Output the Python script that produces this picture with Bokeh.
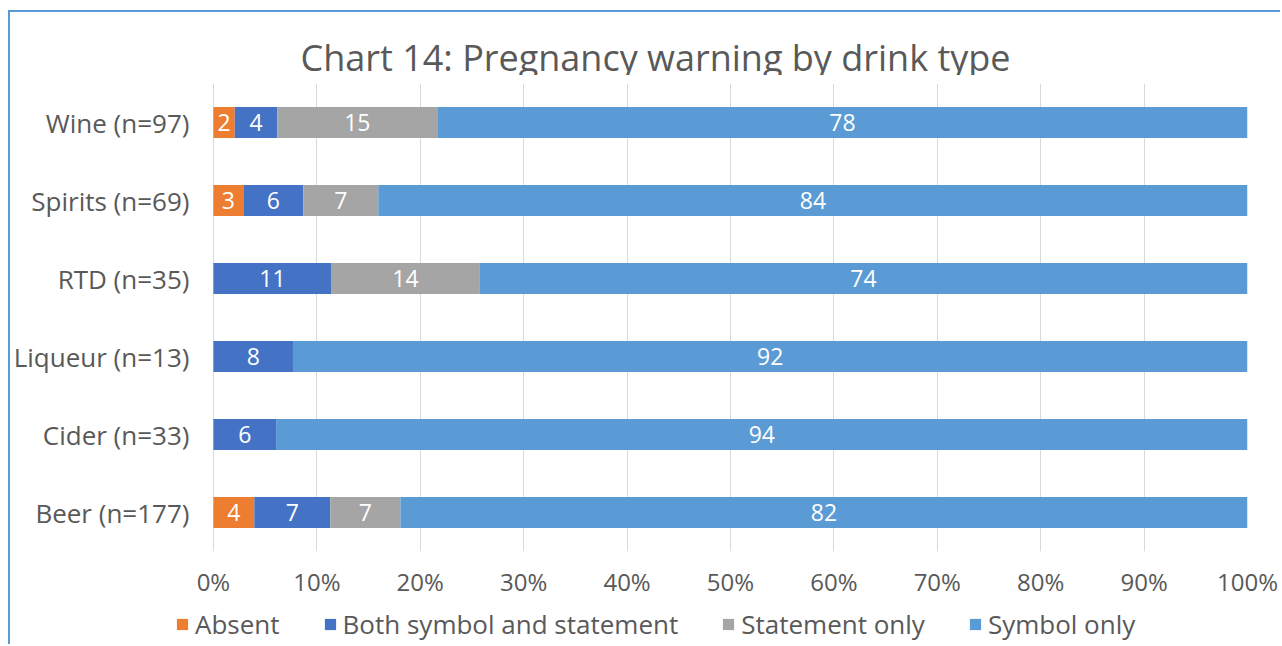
from bokeh.plotting import figure
from bokeh.layouts import column
from bokeh.models import (ColumnDataSource, FactorRange, Range1d, Legend, LegendItem,
                          LabelSet, Label, NumeralTickFormatter, FixedTicker)
from bokeh.core.properties import value
from bokeh.embed import file_html
from bokeh.resources import INLINE

# ---- data (counts; labels are rounded percentages) ----
drinks = ["Wine", "Spirits", "RTD", "Liqueur", "Cider", "Beer"]
sample_n = [97, 69, 35, 13, 33, 177]
absent = [2, 2, 0, 0, 0, 7]
both = [4, 4, 4, 1, 2, 13]
statement_only = [15, 5, 5, 0, 0, 12]
symbol_only = [76, 58, 26, 12, 31, 145]
series_names = ["Absent", "Both symbol and statement", "Statement only", "Symbol only"]
series_colors = ["#ED7D31", "#4472C4", "#A5A5A5", "#5B9BD5"]
x_ticks = [0, 0.1, 0.2, 0.3, 0.4, 0.5, 0.6, 0.7, 0.8, 0.9, 1.0]
title_text = "Chart 14: Pregnancy warning by drink type"

FONT = "Open Sans"
TXT = "#595959"
LEFT_PAD = -38 / 1036  # empty strip left of 0% so the legend may start left of the bars

cats = [f"{d} (n={n})" for d, n in zip(drinks, sample_n)]
series = [absent, both, statement_only, symbol_only]
keys = ["absent", "both", "statement", "symbol"]

data = {"cat": cats}
for k, s in zip(keys, series):
    data[k] = [c / n for c, n in zip(s, sample_n)]
src = ColumnDataSource(data)

# ---------------- title strip ----------------
tf = figure(width=1270, height=63, output_backend="svg", toolbar_location=None,
            x_range=Range1d(0, 1), y_range=Range1d(0, 1),
            x_axis_type=None, y_axis_type=None, outline_line_color=None,
            min_border_left=163, min_border_right=33, min_border_top=0, min_border_bottom=0)
tf.title.visible = False
tf.xgrid.visible = False
tf.ygrid.visible = False
tf.add_layout(Label(x=125, y=18, x_units="screen", y_units="screen", text=title_text,
                    text_align="left", text_baseline="alphabetic",
                    text_font=FONT, text_font_size="36px", text_color=TXT))

# ---------------- main chart ----------------
p = figure(width=1270, height=527, output_backend="svg", toolbar_location=None,
           y_range=FactorRange(*list(reversed(cats))), x_range=Range1d(LEFT_PAD, 1),
           min_border_left=163, min_border_right=33, min_border_top=8,
           min_border_bottom=51, outline_line_color=None)
p.title.visible = False

renderers = p.hbar_stack(keys, y="cat", height=0.4, color=series_colors,
                         line_color=None, source=src)

# data labels
lx, ly, lt = [], [], []
for i, c in enumerate(cats):
    left = 0.0
    for k in keys:
        v = data[k][i]
        if v > 0:
            lx.append(left + v / 2)
            ly.append(c)
            lt.append(str(int(round(v * 100))))
        left += v
lsrc = ColumnDataSource(dict(x=lx, y=ly, t=lt))
p.add_layout(LabelSet(x="x", y="y", text="t", source=lsrc, text_align="center",
                      text_baseline="middle", text_color="white",
                      text_font=value(FONT), text_font_size="23px"))

# axes
p.xaxis.ticker = FixedTicker(ticks=x_ticks)
p.xaxis.formatter = NumeralTickFormatter(format="0%")
for ax in (p.xaxis[0], p.yaxis[0]):
    ax.axis_line_color = None
    ax.major_tick_line_color = None
    ax.minor_tick_line_color = None
    ax.major_tick_out = 0
    ax.major_tick_in = 0
    ax.minor_tick_out = 0
    ax.major_label_text_font = FONT
    ax.major_label_text_color = TXT
p.xaxis.major_label_text_font_size = "24px"
p.yaxis.major_label_text_font_size = "26px"
p.xaxis.major_label_standoff = 13
p.yaxis.major_label_standoff = -14

p.xgrid.grid_line_color = "#D9D9D9"
p.ygrid.grid_line_color = None

# ---------------- legend strip ----------------
lg = figure(width=1270, height=42, output_backend="svg", toolbar_location=None,
            x_range=Range1d(0, 1), y_range=FactorRange(*cats),
            x_axis_type=None, y_axis_type=None, outline_line_color=None,
            min_border_left=163, min_border_right=33, min_border_top=0, min_border_bottom=0)
lg.title.visible = False
lg.xgrid.visible = False
lg.ygrid.visible = False
legend_renderers = lg.hbar_stack(keys, y="cat", height=0.4, color=series_colors,
                                 line_color=None, source=src, visible=False)
items = [LegendItem(label=n, renderers=[r]) for n, r in zip(series_names, legend_renderers)]
legend = Legend(items=items, orientation="horizontal", location=(0, 2),
                glyph_width=14, glyph_height=14, label_standoff=6, spacing=43,
                padding=0, margin=0, border_line_color=None, background_fill_alpha=0,
                inactive_fill_alpha=0,
                label_text_font=FONT, label_text_font_size="26px",
                label_text_color=TXT)
lg.add_layout(legend, "center")

layout = column(tf, p, lg, spacing=0,
                styles={"border-top": "2px solid #5B9BD5", "border-left": "2px solid #5B9BD5",
                        "margin-left": "8px", "margin-top": "10px"})

open("out.html", "w").write(file_html(layout, INLINE))
